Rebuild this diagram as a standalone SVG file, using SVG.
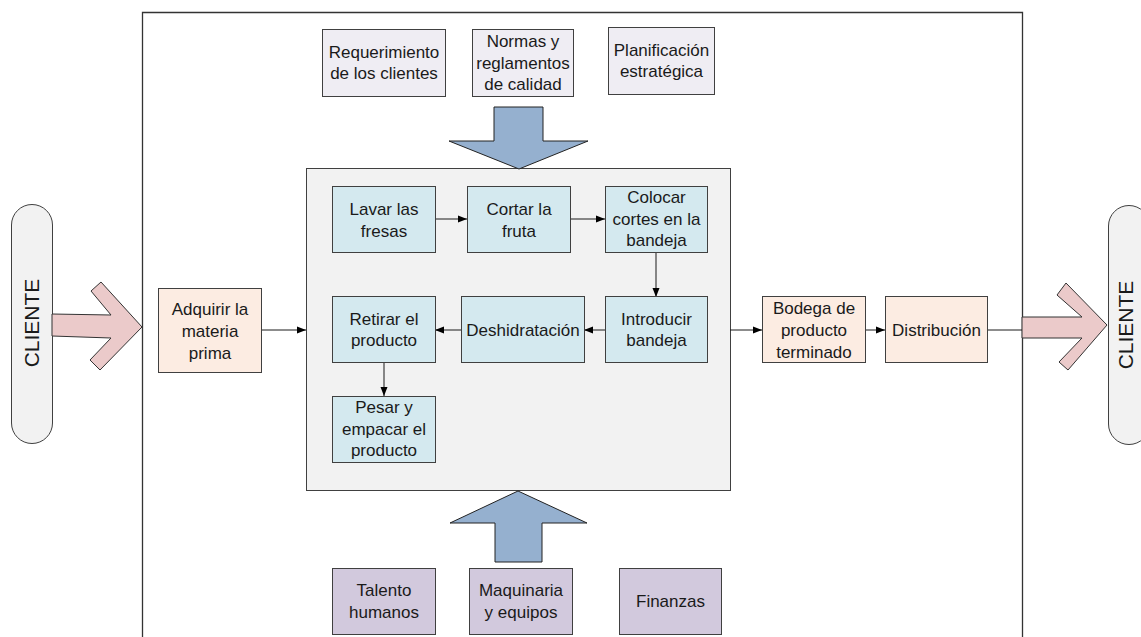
<svg xmlns="http://www.w3.org/2000/svg" width="1141" height="637" viewBox="0 0 1141 637">
<defs>
<marker id="ah" markerUnits="userSpaceOnUse" markerWidth="10" markerHeight="10" viewBox="0 0 10 10" refX="9" refY="5" orient="auto">
<path d="M0,1.5 L9,5 L0,8.5 Z" fill="#000"/>
</marker>
<style>
.t{font-family:"Liberation Sans",Arial,sans-serif;font-size:17px;fill:#1a1a1a;text-anchor:middle}
.big{font-family:"Liberation Sans",Arial,sans-serif;font-size:21px;fill:#1a1a1a;text-anchor:middle}
.box{stroke:#404040;stroke-width:1}
.top{fill:#efedf3}
.proc{fill:#d4e9ef}
.peach{fill:#fcece2}
.res{fill:#d2c9dd}
.pill{fill:#f2f2f2;stroke:#404040;stroke-width:1}
.ln{stroke:#1a1a1a;stroke-width:1;fill:none}
.arr{marker-end:url(#ah)}
.blue{fill:#95b0cf;stroke:#222;stroke-width:1}
.pink{fill:#ebcaca;stroke:#333;stroke-width:1}
</style>
</defs>
<rect width="1141" height="637" fill="#fff"/>
<path d="M142.5,650 V12.5 H1022.5 V650" fill="none" stroke="#333" stroke-width="1.3"/>
<rect id="proceso" x="306.5" y="168.5" width="424" height="322" fill="#f2f2f2" stroke="#404040" stroke-width="1"/>

<g id="cliente-izq"><rect class="pill" x="11.5" y="204.5" width="41" height="239" rx="20.5"/><text class="big" transform="translate(39,323) rotate(-90)">CLIENTE</text></g>
<g id="cliente-der"><rect class="pill" x="1108.5" y="205.5" width="41" height="239" rx="20.5"/><text class="big" transform="translate(1133,325) rotate(-90)">CLIENTE</text></g>

<g id="connectors">
<polygon class="pink" points="52,314 111,315 91,291 101,282 142,327 100,370 90,360 111,338 52,336"/>
<polygon class="pink" points="1022,317 1082,317 1057,295 1066,283 1107,325 1068,370 1059,362 1082,338 1022,338"/>
<polygon class="blue" points="494,107 543,107 543,141 588,141 519,169 449,141 494,141"/>
<polygon class="blue" points="518,491 587,523 542,523 542,562 495,562 495,523 450,523"/>
<line class="ln arr" x1="261" y1="330" x2="306" y2="330"/>
<line class="ln arr" x1="435" y1="219" x2="467" y2="219"/>
<line class="ln arr" x1="570" y1="219" x2="605" y2="219"/>
<line class="ln arr" x1="656" y1="253" x2="656" y2="297"/>
<line class="ln arr" x1="605" y1="330" x2="584" y2="330"/>
<line class="ln arr" x1="461" y1="330" x2="435" y2="330"/>
<line class="ln arr" x1="384" y1="363" x2="384" y2="396"/>
<line class="ln arr" x1="730" y1="330" x2="762" y2="330"/>
<line class="ln arr" x1="865" y1="330" x2="885" y2="330"/>
<line class="ln" x1="988" y1="330" x2="1022" y2="330"/>
</g>

<g id="requerimiento"><rect class="box top" x="322.5" y="29.5" width="123" height="67"/><text class="t" x="384" y="57.5">Requerimiento<tspan x="384" dy="21.6">de los clientes</tspan></text></g>
<g id="normas"><rect class="box top" x="472.5" y="29.5" width="101" height="67"/><text class="t" x="523" y="47">Normas y<tspan x="523" dy="21.6">reglamentos</tspan><tspan x="523" dy="21.6">de calidad</tspan></text></g>
<g id="planificacion"><rect class="box top" x="608.5" y="27.5" width="106" height="67"/><text class="t" x="661.5" y="55.5">Planificación<tspan x="661.5" dy="21.6">estratégica</tspan></text></g>

<g id="lavar"><rect class="box proc" x="332.5" y="186.5" width="103" height="66"/><text class="t" x="384" y="215">Lavar las<tspan x="384" dy="21.6">fresas</tspan></text></g>
<g id="cortar"><rect class="box proc" x="467.5" y="186.5" width="103" height="66"/><text class="t" x="519" y="215">Cortar la<tspan x="519" dy="21.6">fruta</tspan></text></g>
<g id="colocar"><rect class="box proc" x="605.5" y="186.5" width="102" height="66"/><text class="t" x="656.5" y="203">Colocar<tspan x="656.5" dy="21.6">cortes en la</tspan><tspan x="656.5" dy="21.6">bandeja</tspan></text></g>
<g id="introducir"><rect class="box proc" x="605.5" y="296.5" width="102" height="66"/><text class="t" x="656.5" y="324.5">Introducir<tspan x="656.5" dy="21.6">bandeja</tspan></text></g>
<g id="deshidratacion"><rect class="box proc" x="461.5" y="296.5" width="123" height="66"/><text class="t" x="523" y="336">Deshidratación</text></g>
<g id="retirar"><rect class="box proc" x="332.5" y="296.5" width="103" height="66"/><text class="t" x="384" y="324.5">Retirar el<tspan x="384" dy="21.6">producto</tspan></text></g>
<g id="pesar"><rect class="box proc" x="332.5" y="396.5" width="103" height="66"/><text class="t" x="384" y="413">Pesar y<tspan x="384" dy="21.6">empacar el</tspan><tspan x="384" dy="21.6">producto</tspan></text></g>

<g id="adquirir"><rect class="box peach" x="158.5" y="288.5" width="103" height="84"/><text class="t" x="210" y="314.5">Adquirir la<tspan x="210" dy="22">materia</tspan><tspan x="210" dy="22">prima</tspan></text></g>
<g id="bodega"><rect class="box peach" x="762.5" y="296.5" width="103" height="66"/><text class="t" x="814" y="313.5">Bodega de<tspan x="814" dy="22">producto</tspan><tspan x="814" dy="22">terminado</tspan></text></g>
<g id="distribucion"><rect class="box peach" x="885.5" y="296.5" width="102" height="66"/><text class="t" x="936.5" y="336">Distribución</text></g>

<g id="talento"><rect class="box res" x="332.5" y="568.5" width="103" height="66"/><text class="t" x="384" y="596">Talento<tspan x="384" dy="21.6">humanos</tspan></text></g>
<g id="maquinaria"><rect class="box res" x="469.5" y="568.5" width="103" height="66"/><text class="t" x="521" y="596">Maquinaria<tspan x="521" dy="21.6">y equipos</tspan></text></g>
<g id="finanzas"><rect class="box res" x="619.5" y="568.5" width="102" height="66"/><text class="t" x="670.5" y="607">Finanzas</text></g>
</svg>
